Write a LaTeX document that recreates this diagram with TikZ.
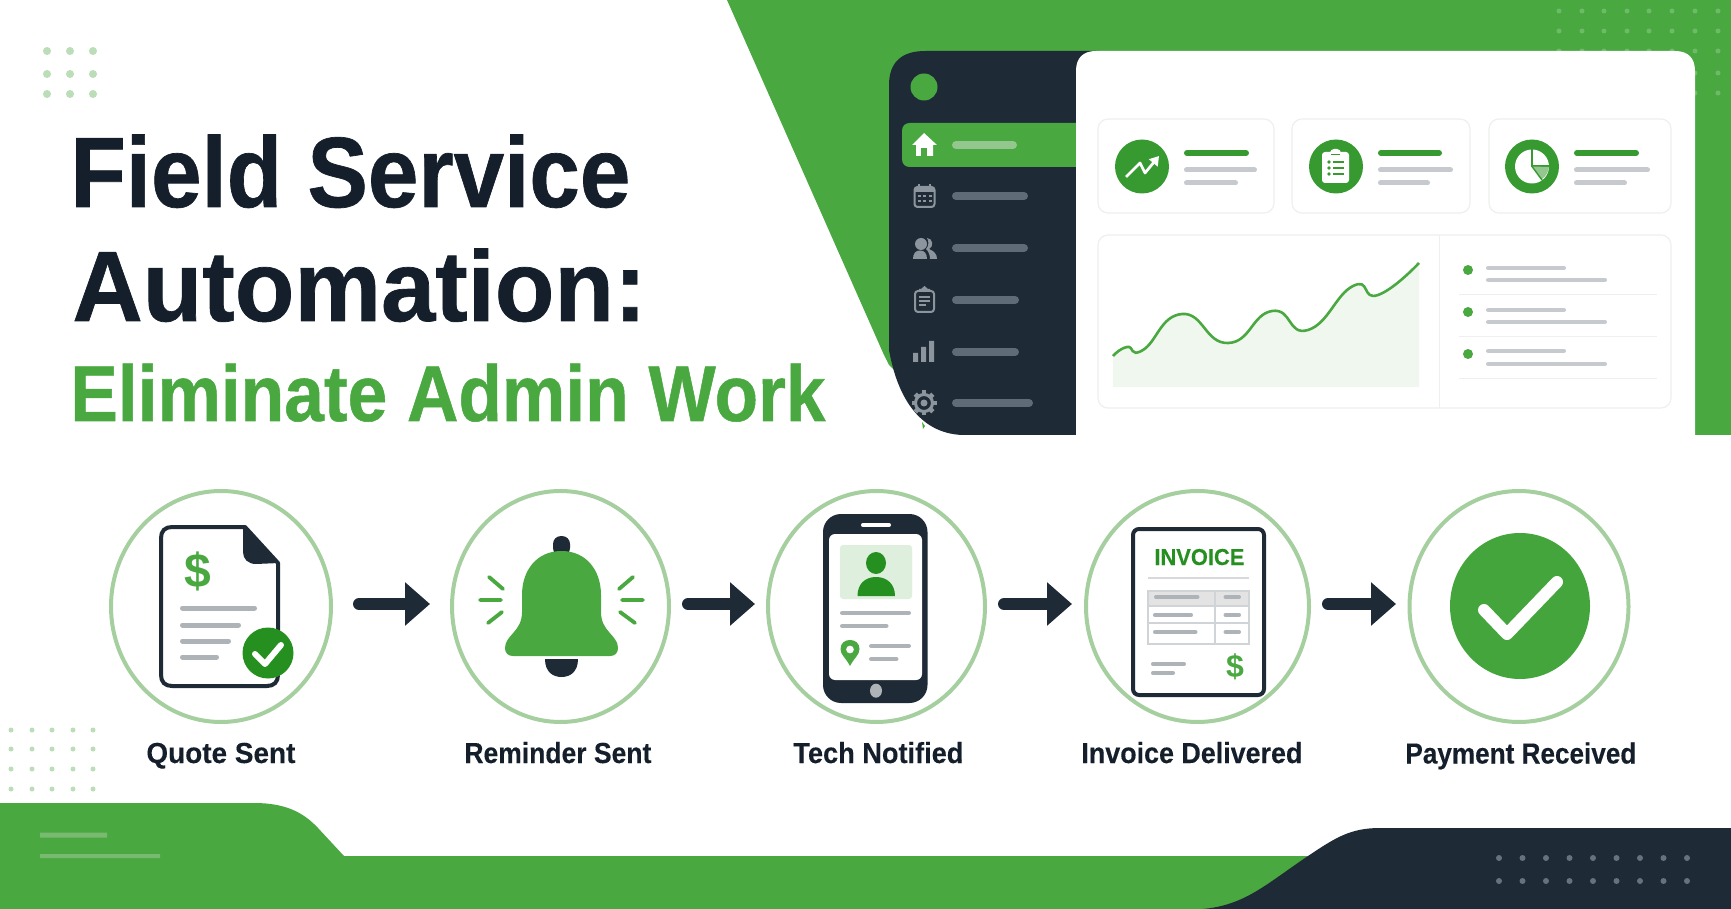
\documentclass[tikz,border=0pt]{standalone}
\usepackage{fontspec}
\usepackage{graphicx}
\setmainfont{Liberation Sans}
\newfontfamily\titlef[BoldFeatures={FakeBold=0.7}]{Liberation Sans}
\newfontfamily\labelf[BoldFeatures={FakeBold=0.2}]{Liberation Sans}
\usetikzlibrary{arrows.meta,shapes.geometric,calc}
\definecolor{brandgreen}{HTML}{49A840}
\definecolor{deepgreen}{HTML}{25901F}
\definecolor{cardgreen}{HTML}{379A31}
\definecolor{ringgreen}{HTML}{A6CFA0}
\definecolor{navy}{HTML}{1E2B37}
\definecolor{inktext}{HTML}{141F2B}
\definecolor{barmid}{HTML}{C6C9CD}
\definecolor{docbar}{HTML}{AEB3B8}
\definecolor{sidebar}{HTML}{5F6B76}
\definecolor{sideicon}{HTML}{8C959D}
\definecolor{hair}{HTML}{EEF0EE}
\definecolor{softdot}{HTML}{BBDDB7}
\definecolor{topdot}{HTML}{6DBB66}
\definecolor{navydot}{HTML}{66727C}
\tikzset{
  ring/.style={ellipse,draw=ringgreen,line width=2pt,inner sep=0pt,outer sep=0pt,fill=white},
  flowarrow/.style={draw=navy,line width=6pt,line cap=round,-{Triangle[length=12.5pt,width=21pt]}},
  steplabel/.style={anchor=base west,inner sep=0pt,text=inktext},
  cardbox/.style={draw=hair,line width=0.6pt,fill=white,rounded corners=5pt},
  hairline/.style={draw=hair,line width=0.5pt},
  sideic/.style={draw=sideicon,line width=1pt,line join=round},
  raystroke/.style={draw=brandgreen,line width=1.9pt,line cap=round},
}
\newcommand\pillbar[5]{\draw[#1,line width=#5*0.5pt,line cap=round] ({#2+#5/2},#4) -- ({#3-#5/2},#4);}
\newcommand\fitw[2]{\resizebox{\dimexpr#1pt/2\relax}{\height}{#2}}
\newcommand\pxfont[1]{\fontsize{\dimexpr#1pt/2\relax}{\dimexpr#1pt/2\relax}\selectfont}
\begin{document}
\begin{tikzpicture}[x=0.5pt,y=-0.5pt]
\useasboundingbox (0,0) rectangle (1731,909);
\fill[white] (0,0) rectangle (1731,909);

% top banner
\fill[brandgreen] (727,0) -- (1731,0) -- (1731,435) -- (960,435) -- (889,365) -- (884,355) -- cycle;
\foreach \xx in {1559,1582,1604,1627,1649,1672,1695,1718}
  \foreach \yy in {11,31,51,73,93}
    \fill[topdot] (\xx,\yy) circle[radius=2.5];

% sidebar
\fill[navy] (889,85) .. controls (889,62) and (902,51) .. (925,51) -- (1100,51) -- (1100,435) -- (962,435)
  .. controls (918,433) and (897,395) .. (889,350) -- cycle;
\fill[brandgreen] (922,422) -- (925,426) -- (923,429) -- cycle;
\fill[brandgreen] (1080,123) -- (910,123) .. controls (905,123) and (902,126) .. (902,131) -- (902,159) .. controls (902,164) and (905,167) .. (910,167) -- (1080,167) -- cycle;
\fill[brandgreen] (924,87) circle[radius=13.5];
% main panel
\fill[white] (1076,435) -- (1076,71) .. controls (1076,58) and (1083,51) .. (1096,51) -- (1675,51) .. controls (1688,51) and (1695,58) .. (1695,71) -- (1695,435) -- cycle;

% sidebar icons
\fill[white] (912,145) -- (924,133) -- (937,145) -- (933,145) -- (933,156) -- (916,156) -- (916,145) -- cycle;
\fill[brandgreen] (921,148) rectangle (927,156);
\pillbar{color=ringgreen!80!brandgreen}{952}{1017}{145}{8}
% calendar
\draw[sideic,rounded corners=1.5pt] (914.5,187) rectangle (934.5,207);
\fill[sideicon] (915,187) rectangle (934,192);
\draw[sideic] (919,184) -- (919,188) (930,184) -- (930,188);
\foreach \xx in {919,924.5,930} \foreach \yy in {196,201} \fill[sideicon] (\xx-1.5,\yy-1) rectangle (\xx+1.5,\yy+1);
\pillbar{sidebar}{952}{1028}{196}{8}
% people
\fill[sideicon] (921,244) circle[radius=6];
\fill[sideicon] (913,259) .. controls (913,253) and (916,250.5) .. (920,250.5) .. controls (924,250.5) and (927,253) .. (927,259) -- cycle;
\fill[sideicon] (927,238) .. controls (933,238) and (934,247) .. (929,249) .. controls (934,251) and (937,254) .. (937,259) -- (930,259) .. controls (930,254) and (928,251) .. (926,249) .. controls (929,246) and (929,241) .. (927,238) -- cycle;
\pillbar{sidebar}{952}{1028}{248}{8}
% clipboard
\draw[sideic,rounded corners=1.5pt] (915,291) rectangle (934,312);
\fill[sideicon] (919,292) -- (919,289) -- (921,289) -- (924.5,286) -- (928,289) -- (930,289) -- (930,292) -- cycle;
\draw[sideic,line width=0.7pt] (918.5,297) -- (930,297) (918.5,301) -- (930,301) (918.5,305) -- (926,305);
\pillbar{sidebar}{952}{1019}{300}{8}
% bars
\fill[sideicon] (913,353) rectangle (918,362) (921,347) rectangle (926,362) (929,341) rectangle (934,362);
\pillbar{sidebar}{952}{1019}{352}{8}
% gear
\foreach \aa in {0,45,...,315}
  \draw[sideicon,line width=2.3pt] ($(924,403)+(\aa:0.5pt*7)$) -- ($(924,403)+(\aa:0.5pt*12.5)$);
\draw[sideicon,line width=1.5pt,fill=navy] (924,403) circle[radius=8.5];
\fill[sideicon] (924,403) circle[radius=3.5];
\pillbar{sidebar}{952}{1033}{403}{8}

% cards
\draw[cardbox] (1098,119) rectangle (1274,213);
\draw[cardbox] (1292,119) rectangle (1470,213);
\draw[cardbox] (1489,119) rectangle (1671,213);
\foreach \cx in {1142,1336,1532} \fill[cardgreen] (\cx,166.5) circle[radius=27];
% card 1 icon
\draw[white,line width=1.35pt,line join=round,-{Triangle[length=4.5pt,width=5.5pt]}] (1126,177) -- (1140,163) -- (1145,173) -- (1159,156);
% card 2 icon
\fill[white,rounded corners=1.5pt] (1322,152) rectangle (1349,183);
\fill[white,rounded corners=2pt] (1330,149) rectangle (1341,156);
\fill[cardgreen] (1331,154) rectangle (1340,155.5);
\foreach \yy in {162,168,174} {
  \fill[cardgreen] (1329,\yy) circle[radius=1.8];
  \draw[cardgreen,line width=1pt] (1333,\yy) -- (1344,\yy);
}
% card 3 icon
\fill[white] (1532,166.5) circle[radius=17];
\draw[cardgreen,line width=1pt] (1532,149) -- (1532,166.5) -- (1549,166.5);
\fill[ringgreen!80!brandgreen] (1532,166.5) -- (1549,167) .. controls (1548.5,172) and (1546,176) .. (1542,179) -- cycle;
\draw[cardgreen,line width=0.7pt] (1532,166.5) -- (1542,180);
% card texts
\pillbar{cardgreen}{1184}{1249}{153}{6} \pillbar{barmid}{1184}{1257}{170}{5} \pillbar{barmid}{1184}{1238}{183}{5}
\pillbar{cardgreen}{1378}{1442}{153}{6} \pillbar{barmid}{1378}{1453}{170}{5} \pillbar{barmid}{1378}{1430}{183}{5}
\pillbar{cardgreen}{1574}{1639}{153}{6} \pillbar{barmid}{1574}{1650}{170}{5} \pillbar{barmid}{1574}{1627}{183}{5}

% chart card
\draw[cardbox] (1098,235) rectangle (1671,408);
\draw[hairline] (1439,235) -- (1439,408);
\fill[brandgreen!9] (1113,387) -- plot[smooth,tension=0.9] coordinates {(1113,356) (1127,347) (1143,350) (1182,314) (1228,343) (1272,311) (1308,330) (1353,286) (1378,295) (1419,263)} -- (1419,387) -- cycle;
\draw[brandgreen,line width=1.3pt] plot[smooth,tension=0.9] coordinates {(1113,356) (1127,347) (1143,350) (1182,314) (1228,343) (1272,311) (1308,330) (1353,286) (1378,295) (1419,263)};
\foreach \yy/\ya/\yb/\ys in {270/268/280/295,312/310/322/337,354/351/364/379} {
  \fill[brandgreen] (1468,\yy) circle[radius=5];
  \pillbar{barmid}{1486}{1566}{\ya}{4.5}
  \pillbar{barmid}{1486}{1607}{\yb}{4.5}
  \draw[hairline] (1459,\ys) -- (1657,\ys);
}

% title
\node[anchor=base west,inner sep=0pt,text=inktext] (title1) at (70,207) {\fitw{560}{\titlef\bfseries\pxfont{100}Field Service}};
\node[anchor=base west,inner sep=0pt,text=inktext] (title2) at (72,321) {\fitw{574}{\titlef\bfseries\pxfont{100}Automation:}};
\node[anchor=base west,inner sep=0pt,text=brandgreen] (title3) at (70,421) {\fitw{755}{\titlef\bfseries\pxfont{79}Eliminate Admin Work}};

% corner dots
\foreach \xx in {47,70,93} \foreach \yy in {51,74,94}
  \fill[softdot] (\xx,\yy) circle[radius=4];
\foreach \xx in {11,32,52,73,93} \foreach \yy in {730,749,769,789}
  \fill[softdot] (\xx,\yy) circle[radius=2.5];

% steps
\node[ring,minimum width=110pt,minimum height=115.5pt] (c1) at (221,606.5) {};
\node[ring,minimum width=108.5pt,minimum height=115.5pt] (c2) at (560.5,606.5) {};
\node[ring,minimum width=108.5pt,minimum height=115.5pt] (c3) at (876.5,606.5) {};
\node[ring,minimum width=111.5pt,minimum height=115.5pt] (c4) at (1197.5,606.5) {};
\node[ring,minimum width=109.5pt,minimum height=115.5pt] (c5) at (1519,606.5) {};

\draw[flowarrow,shorten <=14pt,shorten >=11pt] ([yshift=1.25pt]c1.east) -- ([yshift=1.25pt]c2.west);
\draw[flowarrow,shorten <=9.5pt,shorten >=6.5pt] ([yshift=1.25pt]c2.east) -- ([yshift=1.25pt]c3.west);
\draw[flowarrow,shorten <=9.5pt,shorten >=7pt] ([yshift=1.25pt]c3.east) -- ([yshift=1.25pt]c4.west);
\draw[flowarrow,shorten <=9.5pt,shorten >=6.75pt] ([yshift=1.25pt]c4.east) -- ([yshift=1.25pt]c5.west);

\node[steplabel] (l1) at (146,763) {\fitw{149}{\labelf\bfseries\pxfont{29}Quote Sent}};
\node[steplabel] (l2) at (464,763) {\fitw{187}{\labelf\bfseries\pxfont{29}Reminder Sent}};
\node[steplabel] (l3) at (793,763) {\fitw{170}{\labelf\bfseries\pxfont{29}Tech Notified}};
\node[steplabel] (l4) at (1081,763) {\fitw{221}{\labelf\bfseries\pxfont{29}Invoice Delivered}};
\node[steplabel] (l5) at (1405,763.5) {\fitw{231}{\labelf\bfseries\pxfont{29}Payment Received}};

% quote document
\draw[navy,line width=2pt,fill=white,line join=round] (245,527) -- (172,527) .. controls (165,527) and (161,531) .. (161,538) -- (161,675) .. controls (161,682) and (165,686) .. (172,686) -- (267,686) .. controls (274,686) and (278,682) .. (278,675) -- (278,563) -- cycle;
\fill[navy] (243,526) -- (279,563) -- (256,564) .. controls (248,564) and (243,559) .. (243,552) -- cycle;
\node[inner sep=0pt,text=brandgreen] (d1) at (198,571) {\bfseries\pxfont{48}\$};
\pillbar{docbar}{180}{257}{608}{5}
\pillbar{docbar}{180}{241}{625}{5}
\pillbar{docbar}{180}{231}{641}{5}
\pillbar{docbar}{180}{219}{657}{5}
\fill[deepgreen] (268,653) circle[radius=25.5];
\draw[white,line width=3pt,line cap=round,line join=round] (255,654) -- (265,664) -- (281,645);

% bell
\fill[navy,rounded corners=4pt] (553,536) rectangle (570,556);
\fill[brandgreen] (561.5,551) .. controls (537,551) and (522,570) .. (522,595) -- (522,612) .. controls (522,632) and (505,635) .. (505,648) .. controls (505,653) and (508,656) .. (513,656) -- (610,656) .. controls (615,656) and (618,653) .. (618,648) .. controls (618,635) and (601,632) .. (601,612) -- (601,595) .. controls (601,570) and (586,551) .. (561.5,551) -- cycle;
\fill[navy] (545,659) -- (578,659) .. controls (578,672) and (570,677) .. (561.5,677) .. controls (553,677) and (545,672) .. (545,659) -- cycle;
\draw[raystroke] (489,577) -- (503,589) (480,600) -- (501,600) (488,623) -- (502,612);
\draw[raystroke] (633,577) -- (619,589) (643,600) -- (622,600) (635,623) -- (620,612);

% phone
\fill[navy,rounded corners=9pt] (823,514) rectangle (927.5,703);
\pillbar{white}{861}{891}{525}{3.5}
\fill[white,rounded corners=3pt] (829,534) rectangle (922,680);
\fill[brandgreen!18,rounded corners=1.5pt] (840,545) rectangle (912,599);
\fill[deepgreen] (876,563) ellipse[x radius=10,y radius=11];
\fill[deepgreen] (857.5,596) .. controls (857.5,584) and (865,577) .. (876,577) .. controls (887,577) and (895,584) .. (895,596) -- cycle;
\pillbar{docbar}{840}{911}{613}{4.5}
\pillbar{docbar}{840}{888.5}{626}{4.5}
\fill[brandgreen,even odd rule] (850,666) .. controls (846,658) and (840.5,655) .. (840.5,649) .. controls (840.5,643) and (845,640) .. (850,640) .. controls (855,640) and (859.5,643) .. (859.5,649) .. controls (859.5,655) and (854,658) .. (850,666) -- cycle (850,649.5) circle[radius=4];
\pillbar{docbar}{869}{911}{646}{4.5}
\pillbar{docbar}{869}{898.5}{659}{4.5}
\fill[docbar] (876,690.7) ellipse[x radius=6,y radius=7];

% invoice
\draw[navy,line width=2pt,fill=white,rounded corners=3pt] (1133,529) rectangle (1264,695);
\node[anchor=base west,inner sep=0pt,text=deepgreen] (inv) at (1154,565) {\fitw{90}{\labelf\bfseries\pxfont{23}INVOICE}};
\draw[barmid!70!white,line width=1.2pt] (1148,578) -- (1249,578);
\fill[black!11] (1148,591) rectangle (1249,606);
\draw[barmid!80!white,line width=0.8pt] (1148,591) rectangle (1249,644) (1148,606) -- (1249,606) (1148,623) -- (1249,623) (1215,591) -- (1215,644);
\pillbar{docbar}{1154}{1199.5}{597}{4}
\pillbar{docbar}{1223.5}{1241}{597}{4}
\pillbar{docbar}{1153}{1193}{615}{3.5}
\pillbar{docbar}{1223.5}{1241}{615}{3.5}
\pillbar{docbar}{1153}{1197.5}{632}{3.5}
\pillbar{docbar}{1223.5}{1241}{632}{3.5}
\pillbar{docbar}{1151}{1186}{664}{3.5}
\pillbar{docbar}{1151}{1175}{673}{3.5}
\node[inner sep=0pt,text=brandgreen] (d2) at (1235,667) {\bfseries\pxfont{32}\$};

% payment
\fill[brandgreen!90!deepgreen] (1520,606) ellipse[x radius=70,y radius=73];
\draw[white,line width=6pt,line cap=round,line join=round] (1484,610) -- (1507,634) -- (1557,582);

% footer
\fill[brandgreen] (0,803) -- (254,803) .. controls (285,803) and (303,812) .. (318,828) -- (344,856) -- (1400,856) -- (1400,909) -- (0,909) -- cycle;
\fill[navy] (1203,909) .. controls (1245,905) and (1265,885) .. (1308,856) .. controls (1335,838) and (1350,828) .. (1380,828) -- (1731,828) -- (1731,909) -- cycle;
\fill[ringgreen!50!brandgreen] (40,832.5) rectangle (107,837.5) (40,854) rectangle (160,858);
\foreach \xx in {1499,1522.5,1546,1569.5,1593,1616.5,1640,1663.5,1687}
  \foreach \yy in {858,881}
    \fill[navydot] (\xx,\yy) circle[radius=3];
\end{tikzpicture}
\end{document}
